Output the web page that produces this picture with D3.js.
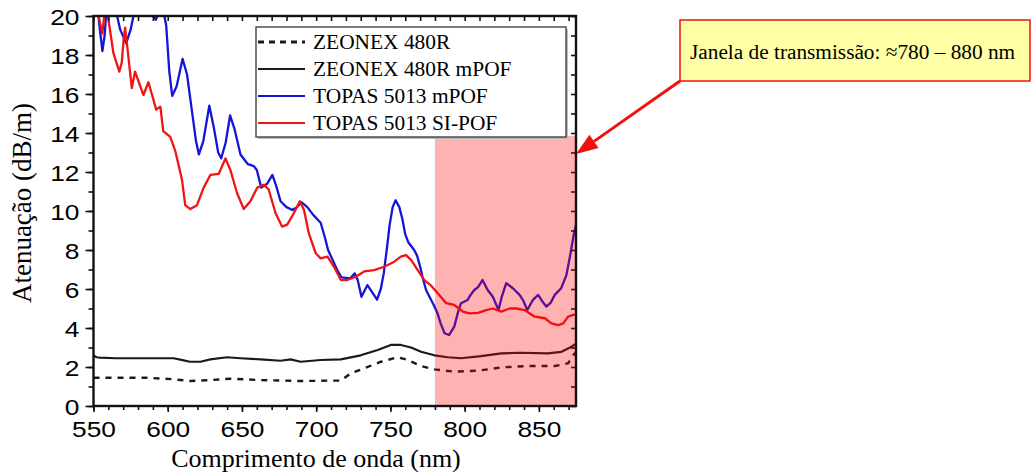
<!DOCTYPE html>
<html>
<head>
<meta charset="utf-8">
<script src="https://cdn.jsdelivr.net/npm/d3@7"></script>
<style>
  body { margin: 0; background: #fff; }
  svg { display: block; }
</style>
</head>
<body>
<svg id="chart" width="1033" height="472"></svg>
<script>
// Axis domains and tick labels
const wavelengthDomain = [550, 875];
const attenuationDomain = [0, 20];
const xTickLabels = [550, 600, 650, 700, 750, 800, 850];
const yTickLabels = [0, 2, 4, 6, 8, 10, 12, 14, 16, 18, 20];

const seriesNames = ["ZEONEX 480R", "ZEONEX 480R mPOF", "TOPAS 5013 mPOF", "TOPAS 5013 SI-POF"];

// Attenuation spectra: [wavelength (nm), attenuation (dB/m)]
const zeonex480R = [
  [550, 1.45], [575, 1.45], [586, 1.45], [604, 1.37], [615.2, 1.28], [628.7, 1.33],
  [642.2, 1.4], [662.5, 1.33], [689.5, 1.28], [707.6, 1.3], [716.6, 1.3], [723.3, 1.68],
  [732.3, 1.93], [743.6, 2.27], [754.9, 2.5], [761.6, 2.36], [770.6, 2.05], [779.6, 1.88],
  [793, 1.76], [809, 1.81], [824.7, 1.98], [842.7, 2.05], [860.7, 2.05], [869.7, 2.19],
  [873, 2.6], [875, 2.75]
];

const zeonex480RmPOF = [
  [550, 2.6], [552, 2.5], [554.5, 2.48], [565, 2.45], [575, 2.45], [586, 2.45], [604, 2.45],
  [610, 2.35], [615, 2.27], [622, 2.27], [628.7, 2.39], [640, 2.5], [649, 2.45], [662.5, 2.39],
  [676, 2.32], [682.8, 2.39], [689.5, 2.27], [703, 2.36], [716.6, 2.39], [730, 2.6],
  [741.4, 2.87], [750.3, 3.13], [757, 3.13], [763.9, 3.0], [770.6, 2.78], [779.6, 2.6],
  [788.6, 2.5], [797.6, 2.45], [811, 2.56], [824.7, 2.7], [838, 2.73], [856, 2.7],
  [865.2, 2.78], [872, 3.04], [875, 3.2]
];

const topas5013mPOF = [
  [552.5, 20.6], [554, 19.5], [556, 18.2], [557.5, 19.0], [559, 20.6], [562, 21.5], [565, 20.3],
  [568, 19.3], [572, 18.6], [575, 19.3], [578, 20.4], [582, 21.3], [588, 20.6], [590, 20.0],
  [592, 19.8], [594, 20.2], [597, 20.3], [599, 19.5], [601, 17.2], [603, 15.9], [606, 16.4],
  [610, 17.8], [613, 17.0], [616, 15.3], [619, 13.6], [621, 12.9], [624, 13.6], [628, 15.4],
  [631, 14.3], [634, 13.0], [636, 12.7], [639, 13.5], [642, 14.9], [645, 14.2], [649, 12.9],
  [654, 12.4], [658, 12.3], [660, 12.1], [663, 11.2], [667, 11.4], [670.5, 11.85], [673, 11.3],
  [676, 10.5], [680, 10.2], [684, 10.05], [687, 10.2], [690, 10.45], [694, 10.2], [698, 9.8],
  [703, 9.4], [706, 8.6], [708, 8.0], [711, 7.5], [714, 7.0], [717, 6.6], [723, 6.55],
  [726, 6.8], [728, 6.45], [730.5, 5.6], [734.5, 6.2], [738, 5.8], [741, 5.45], [743.5, 6.0],
  [745.5, 6.8], [747.5, 8.0], [749.5, 9.3], [751.5, 10.2], [753.5, 10.55], [756, 10.2],
  [758, 9.6], [760, 8.8], [762, 8.4], [766, 8.0], [768, 7.7], [770, 7.15], [772, 6.5],
  [774, 5.95], [777, 5.5], [779, 5.2], [781.5, 4.8], [784, 4.2], [786.5, 3.73], [789.5, 3.64],
  [793, 4.07], [795.5, 4.8], [797.5, 5.27], [802, 5.44], [804, 5.7], [806.5, 5.95], [809, 6.1],
  [812, 6.46], [815.5, 5.95], [819, 5.6], [822.8, 4.92], [825, 5.6], [828, 6.3], [832.5, 6.04],
  [837, 5.7], [839.5, 5.4], [842.2, 4.92], [846, 5.44], [849.5, 5.7], [852, 5.4], [855, 5.1],
  [858, 5.3], [860.7, 5.7], [865, 6.04], [868.5, 6.7], [871, 7.7], [873.5, 8.8], [875, 9.3]
];

const topas5013SIPOF = [
  [552, 20.6], [554.5, 19.6], [556, 19.1], [557.5, 20.2], [559, 20.3], [560.5, 19.6],
  [563.4, 18.1], [565.5, 17.6], [567.4, 17.15], [569, 17.6], [570.3, 18.8], [571.3, 19.4],
  [572.5, 18.6], [573.5, 17.9], [575.8, 16.3], [578, 17.15], [581, 16.5], [583.6, 15.95],
  [587, 16.6], [590.4, 15.7], [592.2, 15.2], [595, 15.35], [597, 14.1], [601.7, 13.8],
  [605, 13.1], [607.5, 12.3], [609.6, 11.6], [611.8, 10.3], [615.2, 10.1], [619.7, 10.3],
  [624.2, 11.2], [628.7, 11.85], [634.3, 11.9], [638.9, 12.7], [642.2, 12.1], [646.8, 10.9],
  [651.2, 10.1], [655.7, 10.5], [660.3, 11.2], [664.7, 11.35], [668, 11.1], [672.6, 9.9],
  [677, 9.2], [680.5, 9.3], [685, 9.9], [689, 10.5], [691.8, 10.05], [695, 8.86], [699.7, 7.83],
  [703, 7.57], [707.6, 7.66], [712, 7.14], [716.6, 6.46], [721, 6.46], [726.7, 6.63],
  [732.3, 6.9], [739, 6.97], [745.8, 7.14], [752.6, 7.4], [757, 7.66], [760.5, 7.74],
  [763.9, 7.49], [768.4, 6.97], [772.8, 6.46], [777, 6.2], [781.9, 5.78], [787.5, 5.27],
  [793, 5.18], [798.8, 4.84], [803.2, 4.75], [809, 4.78], [814.5, 4.92], [819, 5.0],
  [824.7, 4.84], [830.3, 5.0], [834.8, 5.0], [840.4, 4.92], [847.2, 4.58], [854, 4.5],
  [858.4, 4.24], [863, 4.15], [866.4, 4.24], [869.7, 4.58], [873.1, 4.67], [875, 4.67]
];

// Highlighted transmission window
const windowRange = [780, 875];
const windowTop = 13.85;
const noteText = "Janela de transmissão: ≈780 – 880 nm";

const seriesData = [zeonex480R, zeonex480RmPOF, topas5013mPOF, topas5013SIPOF];
const seriesStyles = [
  { color: "#1a1a1a", dash: "6,6", width: 2.4 },
  { color: "#1a1a1a", dash: null, width: 2.2 },
  { color: "#1515d8", dash: null, width: 2.3 },
  { color: "#f01515", dash: null, width: 2.3 }
];

const svg = d3.select("#chart");
const plot = { left: 93.5, right: 576, top: 16, bottom: 406 };

const x = d3.scaleLinear().domain(wavelengthDomain).range([plot.left, plot.right]);
const y = d3.scaleLinear().domain(attenuationDomain).range([plot.bottom, plot.top]);

svg.append("defs").append("clipPath").attr("id", "plot-clip")
  .append("rect")
  .attr("x", plot.left).attr("y", plot.top)
  .attr("width", plot.right - plot.left).attr("height", plot.bottom - plot.top);

// Spectra
const line = d3.line().x(d => x(d[0])).y(d => y(d[1]));
const curves = svg.append("g").attr("clip-path", "url(#plot-clip)");
seriesData.forEach((data, i) => {
  const s = seriesStyles[i];
  curves.append("path")
    .datum(data)
    .attr("d", line)
    .attr("fill", "none")
    .attr("stroke", s.color)
    .attr("stroke-width", s.width)
    .attr("stroke-linejoin", "round")
    .attr("stroke-dasharray", s.dash);
});

// Axes
const serif = "'Liberation Serif', 'Times New Roman', serif";
const sans = "'Liberation Sans', Arial, Helvetica, sans-serif";
const xMinor = d3.range(wavelengthDomain[0], wavelengthDomain[1] + 1, 10);
const yMinor = d3.range(attenuationDomain[0], attenuationDomain[1] + 1, 1);

function styleAxis(g) {
  g.select(".domain").remove();
  g.selectAll("line").attr("stroke", "#111").attr("stroke-width", 1.6);
}

// bottom
svg.append("g").attr("transform", `translate(0,${plot.bottom})`)
  .call(d3.axisBottom(x).tickValues(xMinor).tickSize(4).tickFormat(""))
  .call(styleAxis);
const xAxisG = svg.append("g").attr("transform", `translate(0,${plot.bottom})`)
  .call(d3.axisBottom(x).tickValues(xTickLabels).tickSize(6).tickFormat(d3.format("d")))
  .call(styleAxis);
xAxisG.selectAll("text")
  .attr("y", 15).attr("dy", "0.71em")
  .attr("font-family", sans).attr("font-size", 22.5).attr("fill", "#000")
  .attr("transform", "scale(1.17,1)");

// top
svg.append("g").attr("transform", `translate(0,${plot.top})`)
  .call(d3.axisBottom(x).tickValues(xMinor).tickSize(5).tickFormat(""))
  .call(styleAxis);

// left
svg.append("g").attr("transform", `translate(${plot.left},0)`)
  .call(d3.axisLeft(y).tickValues(yMinor).tickSize(5).tickFormat(""))
  .call(styleAxis);
const yAxisG = svg.append("g").attr("transform", `translate(${plot.left},0)`)
  .call(d3.axisLeft(y).tickValues(yTickLabels).tickSize(8).tickFormat(d3.format("d")))
  .call(styleAxis);
yAxisG.selectAll("text")
  .attr("x", -12).attr("dy", "0.36em")
  .attr("font-family", sans).attr("font-size", 22.5).attr("fill", "#000")
  .attr("transform", "scale(1.17,1)");

// right
svg.append("g").attr("transform", `translate(${plot.right},0)`)
  .call(d3.axisRight(y).tickValues(yMinor).tickSize(-5).tickFormat(""))
  .call(styleAxis);

// Transmission window overlay
svg.append("rect")
  .attr("x", x(windowRange[0]))
  .attr("y", y(windowTop))
  .attr("width", x(windowRange[1]) - x(windowRange[0]))
  .attr("height", y(0) - y(windowTop))
  .attr("fill", "#ff0000")
  .attr("fill-opacity", 0.3);

// Frame
svg.append("rect")
  .attr("x", plot.left).attr("y", plot.top)
  .attr("width", plot.right - plot.left).attr("height", plot.bottom - plot.top)
  .attr("fill", "none").attr("stroke", "#111").attr("stroke-width", 2.4);

// Axis titles
svg.append("text")
  .attr("x", 316).attr("y", 467)
  .attr("text-anchor", "middle")
  .attr("font-family", serif).attr("font-size", 26).attr("fill", "#000")
  .text("Comprimento de onda (nm)");
svg.append("text")
  .attr("transform", "translate(31,203) rotate(-90)")
  .attr("text-anchor", "middle")
  .attr("font-family", serif).attr("font-size", 27).attr("fill", "#000")
  .text("Atenuação (dB/m)");

// Legend
const legend = svg.append("g");
legend.append("rect")
  .attr("x", 258).attr("y", 29).attr("width", 310).attr("height", 110)
  .attr("fill", "#bbb");
legend.append("rect")
  .attr("x", 256).attr("y", 27).attr("width", 310).attr("height", 110)
  .attr("fill", "#fff").attr("stroke", "#444").attr("stroke-width", 1.4);
seriesNames.forEach((name, i) => {
  const s = seriesStyles[i];
  const ry = 42 + i * 27;
  legend.append("line")
    .attr("x1", 258).attr("x2", 305).attr("y1", ry).attr("y2", ry)
    .attr("stroke", s.color).attr("stroke-width", s.dash ? 3 : 2)
    .attr("stroke-dasharray", s.dash ? "6,5" : null);
  legend.append("text")
    .attr("x", 313).attr("y", ry).attr("dy", "0.33em")
    .attr("font-family", serif).attr("font-size", 21.4).attr("fill", "#000")
    .text(name);
});

// Annotation box with arrow to the window
svg.append("rect")
  .attr("x", 680).attr("y", 20).attr("width", 350).attr("height", 61)
  .attr("fill", "#ffffa6").attr("stroke", "#f01010").attr("stroke-width", 1.5);
svg.append("text")
  .attr("x", 690).attr("y", 59)
  .attr("font-family", serif).attr("font-size", 21.3).attr("fill", "#000")
  .text(noteText);

const start = [680, 81];
const tip = [576, 154];
const dx = tip[0] - start[0], dy = tip[1] - start[1];
const len = Math.hypot(dx, dy);
const ux = dx / len, uy = dy / len;
const headLen = 22, headHalf = 8;
const base = [tip[0] - ux * headLen, tip[1] - uy * headLen];
svg.append("line")
  .attr("x1", start[0]).attr("y1", start[1])
  .attr("x2", base[0]).attr("y2", base[1])
  .attr("stroke", "#f01010").attr("stroke-width", 3);
svg.append("polygon")
  .attr("points", [
    tip,
    [base[0] - uy * headHalf, base[1] + ux * headHalf],
    [base[0] + uy * headHalf, base[1] - ux * headHalf]
  ].map(p => p.join(",")).join(" "))
  .attr("fill", "#f01010");
</script>
</body>
</html>
